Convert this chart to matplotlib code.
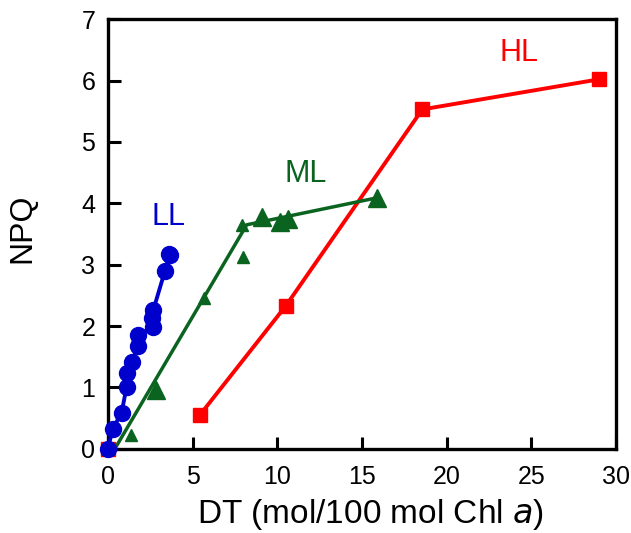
import matplotlib
matplotlib.use('Agg')
import matplotlib.pyplot as plt

plt.rcParams['font.family'] = ['Liberation Sans', 'DejaVu Sans']

# DT (mol/100 mol Chl a) vs NPQ
ll_dt = [0.0, 0.28, 0.81, 1.10, 1.10, 1.40, 1.79, 1.79, 2.68, 2.58, 2.68, 3.37, 3.60, 3.66]
ll_npq = [0.0, 0.32, 0.59, 1.00, 1.23, 1.42, 1.67, 1.85, 1.99, 2.13, 2.26, 2.90, 3.18, 3.16]

ml_small_dt = [0.0, 1.34, 5.67, 7.90, 7.99]
ml_small_npq = [0.0, 0.23, 2.45, 3.65, 3.12]
ml_large_dt = [2.83, 9.08, 10.16, 10.65, 15.90]
ml_large_npq = [0.96, 3.78, 3.70, 3.75, 4.09]
ml_fit_dt = [0.41, 8.2, 15.9]
ml_fit_npq = [0.0, 3.65, 4.09]

hl_dt = [0.0, 5.43, 10.51, 18.57, 29.0]
hl_npq = [0.0, 0.55, 2.33, 5.53, 6.02]

blue = '#0000cc'
green = '#0b6320'
red = '#ff0000'

fig = plt.figure(figsize=(6.31, 5.33), dpi=100)
ax = fig.add_axes([0.171, 0.158, 0.805, 0.806])

# HL
ax.plot(hl_dt[1:], hl_npq[1:], color=red, linewidth=2.8, zorder=2)
ax.plot(hl_dt, hl_npq, linestyle='none', marker='s', markersize=10.5,
        color=red, clip_on=False, zorder=3)

# ML
ax.plot(ml_fit_dt, ml_fit_npq, color=green, linewidth=2.5, zorder=2)
ax.plot(ml_small_dt, ml_small_npq, linestyle='none', marker='^', markersize=9,
        color=green, clip_on=False, zorder=3)
ax.plot(ml_large_dt, ml_large_npq, linestyle='none', marker='^', markersize=13,
        color=green, clip_on=False, zorder=3)

# LL
ll_order = sorted(range(len(ll_dt)), key=lambda i: ll_npq[i])
ax.plot([ll_dt[i] for i in ll_order], [ll_npq[i] for i in ll_order],
        color=blue, linewidth=2.8, zorder=4)
ax.plot(ll_dt, ll_npq, linestyle='none', marker='o', markersize=11.5,
        color=blue, clip_on=False, zorder=5)

ax.text(3.55, 3.78, 'LL', color=blue, fontsize=22, ha='center', va='center')
ax.text(11.7, 4.48, 'ML', color=green, fontsize=22, ha='center', va='center')
ax.text(24.3, 6.45, 'HL', color=red, fontsize=22, ha='center', va='center')

ax.set_xlim(0, 30)
ax.set_ylim(0, 7)
ax.set_xticks([0, 5, 10, 15, 20, 25, 30])
ax.set_yticks([0, 1, 2, 3, 4, 5, 6, 7])
ax.tick_params(direction='in', length=9, width=2.2, labelsize=18)
ax.tick_params(axis='x', pad=12)
ax.tick_params(axis='y', pad=9)
for spine in ax.spines.values():
    spine.set_linewidth(2.4)

ax.set_xlabel('DT (mol/100 mol Chl $\\it{a}$)', fontsize=24)
ax.set_ylabel('NPQ', fontsize=23)
ax.xaxis.set_label_coords(0.516, -0.112)
ax.yaxis.set_label_coords(-0.138, 0.514)

fig.savefig('out.png', dpi=100)
